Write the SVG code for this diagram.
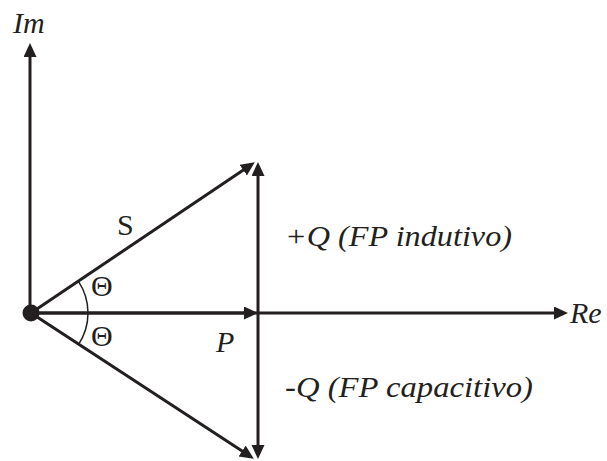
<svg xmlns="http://www.w3.org/2000/svg" width="607" height="461" viewBox="0 0 607 461">
<style>
.ln{stroke:#231f20;stroke-width:3;fill:none}
.arc{stroke:#231f20;stroke-width:1.5;fill:none}
text{fill:#231f20;font-size:30px}
.i{font-style:italic}
</style>
<defs>
<marker id="ah" markerUnits="userSpaceOnUse" markerWidth="15" markerHeight="14" refX="10" refY="6.5" orient="auto">
<path d="M0,0 L14,6.5 L0,13 z" fill="#231f20"/>
</marker>
</defs>
<g id="connectors">
<line id="im-axis" class="ln" x1="30" y1="313" x2="30" y2="47" marker-end="url(#ah)"/>
<line id="re-axis" class="ln" x1="31" y1="313" x2="564" y2="313" marker-end="url(#ah)"/>
<line id="P" class="ln" x1="31" y1="313" x2="254" y2="313" marker-end="url(#ah)"/>
<line id="S" class="ln" x1="31" y1="313" x2="251.5" y2="164.5" marker-end="url(#ah)"/>
<line id="S-cap" class="ln" x1="31" y1="313" x2="250.5" y2="456.5" marker-end="url(#ah)"/>
<line id="Qpos" class="ln" x1="258" y1="313" x2="258" y2="166" marker-end="url(#ah)"/>
<line id="Qneg" class="ln" x1="258" y1="313" x2="258" y2="455" marker-end="url(#ah)"/>
<path id="angle-arc" class="arc" d="M78.3,281.2 A57,57 0 0 1 78.3,344.8"/>
</g>
<g id="origin"><circle cx="31" cy="313" r="8.5" fill="#231f20"/></g>
<g font-family="Liberation Serif, serif">
<g id="label-im"><text class="i" x="13" y="33">Im</text></g>
<g id="label-re"><text class="i" x="570" y="323">Re</text></g>
<g id="label-s"><text x="117" y="235">S</text></g>
<g id="label-p"><text class="i" x="216" y="352">P</text></g>
<g id="label-theta1"><text x="91" y="296" font-size="26">Θ</text></g>
<g id="label-theta2"><text x="91" y="346" font-size="26">Θ</text></g>
<g id="label-qpos"><text class="i" x="285" y="246" textLength="227" lengthAdjust="spacingAndGlyphs">+Q (FP indutivo)</text></g>
<g id="label-qneg"><text class="i" x="285" y="397" textLength="248" lengthAdjust="spacingAndGlyphs">-Q (FP capacitivo)</text></g>
</g>
</svg>
